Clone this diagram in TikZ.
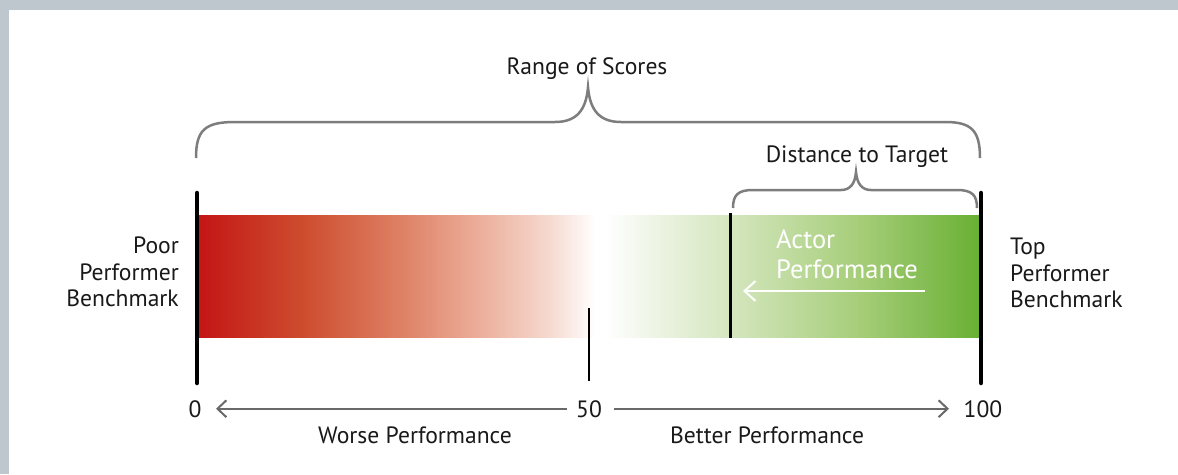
\documentclass[tikz,border=0pt]{standalone}
\usepackage{fontspec}
\setmainfont{PT Sans}
\usetikzlibrary{arrows.meta}
\definecolor{frame}{RGB}{190,199,205}
\definecolor{txt}{RGB}{25,25,25}
\definecolor{bracegray}{RGB}{125,125,125}
\definecolor{axisgray}{RGB}{105,105,105}
\definecolor{s0}{RGB}{196,22,22}
\definecolor{s1}{RGB}{205,75,45}
\definecolor{s2}{RGB}{222,128,100}
\definecolor{s3}{RGB}{236,175,155}
\definecolor{s4}{RGB}{246,218,208}
\definecolor{s5}{RGB}{255,255,255}
\definecolor{s6}{RGB}{235,243,225}
\definecolor{s7}{RGB}{212,230,190}
\definecolor{s8}{RGB}{165,205,120}
\definecolor{s9}{RGB}{105,176,52}
\pgfdeclarehorizontalshading{barshade}{100bp}{color(0bp)=(s0); color(25bp)=(s0); color(31.5bp)=(s1); color(37.9bp)=(s2); color(43.05bp)=(s3); color(47.55bp)=(s4); color(50.4bp)=(s5); color(51.05bp)=(s5); color(54.6bp)=(s6); color(59.1bp)=(s7); color(67.45bp)=(s8); color(75bp)=(s9); color(100bp)=(s9)}
\begin{document}
\begin{tikzpicture}[x=1pt,y=-1pt,
  lbl/.style={font=\fontsize{23.6}{26}\selectfont, text=txt, inner sep=0pt},
  wlbl/.style={lbl, font=\fontsize{26.5}{30}\selectfont, text=white},
  bracecurve/.style={draw=bracegray, line width=2.5pt},
  benchline/.style={line width=4.5pt, line cap=round, black},
  thinline/.style={line width=2.6pt, black},
  axisarrow/.style={draw=axisgray, line width=2pt, -{Straight Barb[length=9pt,width=17pt,line width=2pt]}},
  actorarrow/.style={draw=white, line width=2pt, -{Straight Barb[length=11pt,width=20pt,line width=2pt]}}]
\useasboundingbox (0,0) rectangle (1178,474);
\fill[white] (0,0) rectangle (1178,474);
\fill[frame] (0,0) rectangle (9,474);
\fill[frame] (0,0) rectangle (1178,10);
% bar
\shade[shading=barshade] (199,215) rectangle (979,337);
% benchmark lines
\coordinate (lt) at (197,193); \coordinate (lb) at (197,383);
\coordinate (rt) at (981,193); \coordinate (rb) at (981,383);
\draw[benchline] (lt) -- (lb);
\draw[benchline] (rt) -- (rb);
\coordinate (mt) at (589,308); \coordinate (mb) at (589,381);
\draw[thinline] (mt) -- (mb);
\coordinate (at) at (730,213); \coordinate (ab) at (730,338);
\draw[line width=3pt, black] (at) -- (ab);
% big brace
\draw[bracecurve] (196,158) .. controls (196,130) and (205,122) .. (235,122) -- (555,122)
  .. controls (575,122) and (586,112) .. (588,87)
  .. controls (590,112) and (601,122) .. (621,122) -- (945,122)
  .. controls (971,122) and (980,130) .. (980,158);
% small brace
\draw[bracecurve] (733,208) .. controls (733,195) and (738,190) .. (753,190) -- (841,190)
  .. controls (850,190) and (855,184) .. (856,172)
  .. controls (857,184) and (862,190) .. (871,190) -- (957,190)
  .. controls (972,190) and (977,195) .. (977,208);
% titles
\node[lbl, anchor=base] (range) at (587,74) {Range of Scores};
\node[lbl, anchor=base] (dist) at (857,162) {Distance to Target};
% side labels
\node[lbl, anchor=base east] (p1) at (179,253) {Poor};
\node[lbl, anchor=base east] (p2) at (179,280) {Performer};
\node[lbl, anchor=base east] (p3) at (179,306) {Benchmark};
\node[lbl, anchor=base west] (t1) at (1010,254) {Top};
\node[lbl, anchor=base west] (t2) at (1010,281) {Performer};
\node[lbl, anchor=base west] (t3) at (1010,307) {Benchmark};
% actor
\node[wlbl, anchor=base west] (a1) at (776,248) {Actor};
\node[wlbl, anchor=base west] (a2) at (776,278) {Performance};
\coordinate (aas) at (925,291); \coordinate (aae) at (743,291);
\draw[actorarrow] (aas) -- (aae);
% axis
\node[lbl, anchor=base] (n0) at (195,417) {0};
\node[lbl, anchor=base] (n50) at (589,417) {50};
\node[lbl, anchor=base] (n100) at (983,417) {100};
\coordinate (l50) at ([xshift=-9pt]n50.west);
\coordinate (r50) at ([xshift=12pt]n50.east);
\draw[axisarrow] (l50) -- (n0.east -| 216,0);
\draw[axisarrow] (r50) -- (n100.west -| 949,0);
\node[lbl, anchor=base] (worse) at (415,443) {Worse Performance};
\node[lbl, anchor=base] (better) at (767,443) {Better Performance};
\end{tikzpicture}
\end{document}
